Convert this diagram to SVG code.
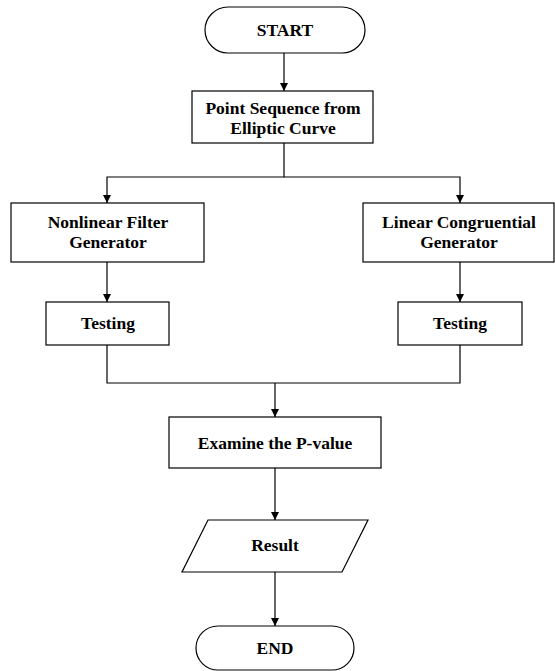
<svg xmlns="http://www.w3.org/2000/svg" width="555" height="671" viewBox="0 0 555 671">
<style>
.s{fill:#fff;stroke:#000;stroke-width:1.2}
.c{fill:none;stroke:#000;stroke-width:1.2}
text{font-family:"Liberation Serif","Times New Roman",serif;font-weight:bold;font-size:17.5px;text-anchor:middle;fill:#000}
</style>
<defs>
<marker id="a" markerWidth="8" markerHeight="10" refX="8" refY="5" orient="auto" markerUnits="userSpaceOnUse">
<path d="M0,1 L8,5 L0,9 Z" fill="#000"/>
</marker>
</defs>
<g id="connectors">
<path class="c" d="M284,53 V91" marker-end="url(#a)"/>
<path class="c" d="M284,143 V177 H107 V203" marker-end="url(#a)"/>
<path class="c" d="M284,177 H460 V203" marker-end="url(#a)"/>
<path class="c" d="M107,262 V302" marker-end="url(#a)"/>
<path class="c" d="M460,262 V302" marker-end="url(#a)"/>
<path class="c" d="M107,345 V383 H460 V345"/>
<path class="c" d="M275,383 V417" marker-end="url(#a)"/>
<path class="c" d="M275,468 V520" marker-end="url(#a)"/>
<path class="c" d="M275,572 V626" marker-end="url(#a)"/>
</g>
<g id="start">
<rect class="s" x="205" y="7" width="160" height="46" rx="23"/>
<text x="285" y="36">START</text>
</g>
<g id="point-seq">
<rect class="s" x="192" y="91" width="181" height="52"/>
<text x="283" y="114">Point Sequence from</text>
<text x="283" y="134">Elliptic Curve</text>
</g>
<g id="nfg">
<rect class="s" x="11" y="203" width="193" height="59"/>
<text x="108" y="228">Nonlinear Filter</text>
<text x="108" y="248">Generator</text>
</g>
<g id="lcg">
<rect class="s" x="363" y="203" width="191" height="59"/>
<text x="459" y="228">Linear Congruential</text>
<text x="459" y="248">Generator</text>
</g>
<g id="testing1">
<rect class="s" x="46" y="302" width="123" height="43"/>
<text x="108" y="329">Testing</text>
</g>
<g id="testing2">
<rect class="s" x="398" y="302" width="124" height="43"/>
<text x="460" y="329">Testing</text>
</g>
<g id="examine">
<rect class="s" x="169" y="417" width="212" height="51"/>
<text x="275" y="449">Examine the P-value</text>
</g>
<g id="result">
<polygon class="s" points="208,520 368,520 342,572 182,572"/>
<text x="275" y="551">Result</text>
</g>
<g id="end">
<rect class="s" x="196" y="626" width="158" height="44" rx="22"/>
<text x="275" y="654">END</text>
</g>
</svg>
